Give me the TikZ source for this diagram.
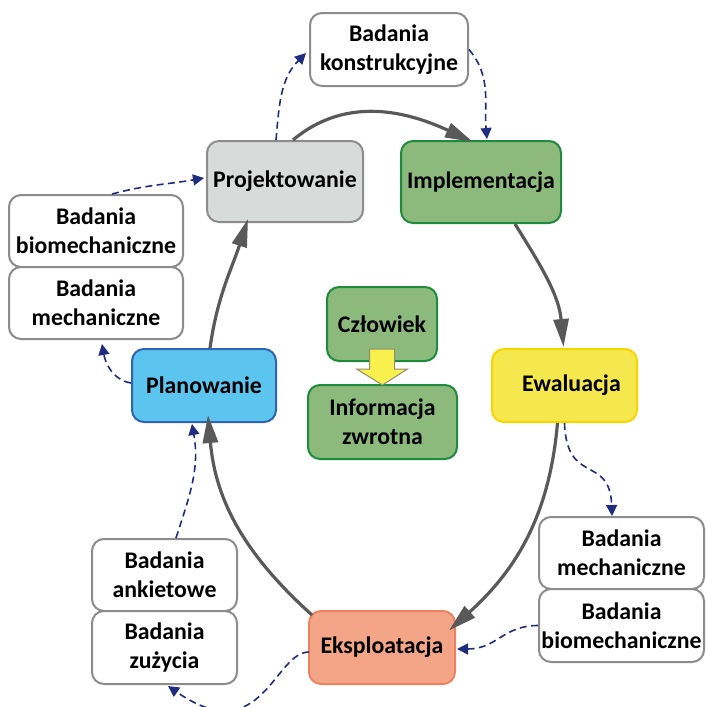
\documentclass[tikz,border=0pt]{standalone}
\usepackage{fontspec}
\setmainfont{Carlito}
\usetikzlibrary{arrows.meta, calc}
\definecolor{boxgray}{RGB}{140,140,140}
\definecolor{projfill}{RGB}{217,219,219}
\definecolor{implfill}{RGB}{139,186,124}
\definecolor{impldraw}{RGB}{30,140,60}
\definecolor{planfill}{RGB}{91,197,239}
\definecolor{plandraw}{RGB}{46,100,176}
\definecolor{ewalfill}{RGB}{245,232,78}
\definecolor{ewaldraw}{RGB}{249,213,0}
\definecolor{ekspfill}{RGB}{244,165,135}
\definecolor{ekspdraw}{RGB}{238,130,96}
\definecolor{arrgray}{RGB}{89,89,89}
\definecolor{arrblue}{RGB}{31,44,128}
\definecolor{strzalka}{RGB}{248,240,76}

\begin{document}
\begin{tikzpicture}[x=0.5pt, y=0.5pt,
    box/.style={draw=boxgray, fill=white, line width=1pt, rounded corners=6pt,
      align=center, inner sep=0pt, font=\fontsize{11.9}{14.5}\selectfont\bfseries},
    mainarr/.style={-{Triangle[length=14pt, width=7.5pt]}, line width=1.6pt, arrgray},
    dasharr/.style={-{Triangle[length=5.5pt, width=5.5pt]}, line width=0.8pt, arrblue,
      dash pattern=on 3.5pt off 2.2pt}]
    \useasboundingbox (0,0) rectangle (706,-707);

    % etapy cyklu
    \node[box, fill=projfill, minimum width=78pt, minimum height=40.5pt] (proj) at (285,-181.5) {Projektowanie};
    \node[box, fill=implfill, draw=impldraw, minimum width=80pt, minimum height=41pt] (impl) at (481,-182) {Implementacja};
    \node[box, fill=ewalfill, draw=ewaldraw, minimum width=72.5pt, minimum height=36.5pt] (ewal) at (564.5,-385.5) {\hspace{7pt}Ewaluacja};
    \node[box, fill=ekspfill, draw=ekspdraw, minimum width=73pt, minimum height=36.5pt] (eksp) at (382,-647.5) {Eksploatacja};
    \node[box, fill=planfill, draw=plandraw, minimum width=72pt, minimum height=36.5pt] (plan) at (204,-385.5) {Planowanie};

    % srodek
    \node[box, fill=implfill, draw=impldraw, minimum width=55pt, minimum height=37pt] (czl) at (382,-324) {Człowiek};
    \node[box, fill=implfill, draw=impldraw, minimum width=74.5pt, minimum height=37pt] (info) at (382.5,-422) {Informacja\\zwrotna};

    % badania
    \node[box, minimum width=79pt, minimum height=36.5pt] (konstr) at (389,-49.5) {Badania\\konstrukcyjne};
    \node[box, minimum width=87pt, minimum height=36pt] (biomL) at (96,-231) {Badania\\biomechaniczne};
    \node[box, minimum width=87pt, minimum height=36pt] (mechL) at (96,-303) {Badania\\mechaniczne};
    \node[box, minimum width=82.5pt, minimum height=36pt] (mechR) at (621.5,-553) {Badania\\mechaniczne};
    \node[box, minimum width=82.5pt, minimum height=36.5pt] (biomR) at (621.5,-625.5) {Badania\\biomechaniczne};
    \node[box, minimum width=72.5pt, minimum height=36pt] (ankiet) at (164.5,-575) {Badania\\ankietowe};
    \node[box, minimum width=72.5pt, minimum height=36.5pt] (zuz) at (164.5,-647.5) {Badania\\zużycia};

    % strzalka czlowiek -> informacja
    \draw[draw=gray!80!olive, line width=0.5pt, fill=strzalka]
      ($(czl.south)+(-12.5,13)$) -- ++(25,0) -- ++(0,-20) -- ++(13,0)
      -- ($(info.north)+(0,-1)$) -- ($(czl.south)+(-25.5,-7)$) -- ++(13,0) -- cycle;

    % glowny cykl
    \draw[mainarr] ($(proj.north)+(8,0)$) to[out=40, in=155] ($(impl.north)+(-8,-2)$);
    \draw[mainarr] ($(impl.south)+(34,0)$) to[out=-58, in=95] ($(ewal.north)+(-1,1)$);
    \draw[mainarr] ($(ewal.south)+(-7,0)$) to[out=-95, in=42] ($(eksp.east)+(-7,17)$);
    \draw[mainarr] ($(eksp.north west)+(4,-5)$) to[out=138, in=-85] ($(plan.south)+(4,8)$);
    \draw[mainarr] ($(plan.north)+(6,0)$) to[out=82, in=-108] ($(proj.south)+(-37,4)$);

    % powiazania z badaniami
    \draw[dasharr] ($(proj.north)+(-9,0)$) to[out=85, in=-135] ($(konstr.west)+(-3,-3.5)$);
    \draw[dasharr] (konstr.east) to[out=-50, in=95] ($(impl.north)+(6,1)$);
    \draw[dasharr] ($(biomL.north)+(16,0)$) to[out=15, in=190] ($(proj.west)+(-2,3.5)$);
    \draw[dasharr] ($(plan.west)+(0,2.5)$) to[out=170, in=-80] ($(mechL.south)+(6,-4)$);
    \draw[dasharr] (ewal.south) .. controls +(2,-63) and +(-2,62) .. ($(mechR.north)+(-9.5,0)$);
    \draw[dasharr] (biomR.west) .. controls +(-35,0) and +(40,0) .. ($(eksp.east)+(1,-1.5)$);
    \draw[dasharr] ($(eksp.west)+(1,-4.5)$) .. controls +(-35,0) and +(94,-65) .. ($(zuz.south)+(3.5,-1)$);
    \draw[dasharr] ($(ankiet.north)+(11.5,0)$) to[out=72, in=-80] ($(plan.south)+(-12,-1)$);
\end{tikzpicture}
\end{document}
